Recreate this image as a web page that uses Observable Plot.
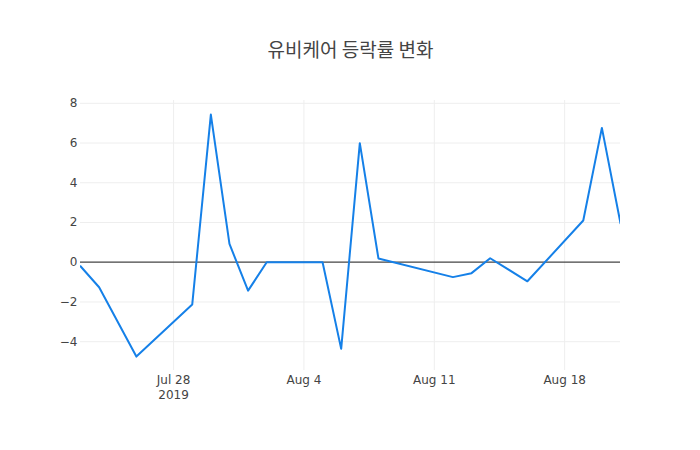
<!DOCTYPE html>
<html>
<head>
<meta charset="utf-8">
<script src="https://cdn.jsdelivr.net/npm/d3@7"></script>
<script src="https://cdn.jsdelivr.net/npm/@observablehq/plot@0.6"></script>
<style>
  html, body { margin: 0; padding: 0; background: #fff; }
  #chart svg { display: block; }
</style>
</head>
<body>
<div id="chart"></div>
<script>
const title = "유비케어 등락률 변화";
const dates = ["2019-07-23","2019-07-24","2019-07-26","2019-07-29","2019-07-30","2019-07-31",
  "2019-08-01","2019-08-02","2019-08-05","2019-08-06","2019-08-07","2019-08-08",
  "2019-08-12","2019-08-13","2019-08-14","2019-08-16","2019-08-19","2019-08-20","2019-08-21"];
const changes = [-0.2, -1.26, -4.75, -2.13, 7.43, 0.92, -1.43, 0, 0, -4.36, 5.99, 0.19,
  -0.75, -0.55, 0.2, -0.96, 2.1, 6.76, 1.96];
const xTickDates = ["2019-07-28","2019-08-04","2019-08-11","2019-08-18"];
const xTickLabels = ["Jul 28\n2019","Aug 4","Aug 11","Aug 18"];
const yTicks = [-4, -2, 0, 2, 4, 6, 8];

const parse = d3.utcParse("%Y-%m-%d");
const data = dates.map((d, i) => ({date: parse(d), value: changes[i]}));
const xTicks = xTickDates.map(parse);
const xLabelData = xTicks.map((d, i) => ({date: d, label: xTickLabels[i]}));

const font = "'DejaVu Sans', 'Noto Sans CJK KR', sans-serif";

const chart = Plot.plot({
  width: 700,
  height: 450,
  marginLeft: 80,
  marginRight: 80,
  marginTop: 100,
  marginBottom: 80,
  style: {fontFamily: font, fontSize: "12px", color: "#444", background: "#fff"},
  x: {type: "utc", domain: [parse("2019-07-23"), parse("2019-08-21")], axis: null},
  y: {domain: [-5.45, 8.14], axis: null},
  marks: [
    Plot.gridX(xTicks, {stroke: "#eee", strokeOpacity: 1}),
    Plot.gridY(yTicks.filter(d => d !== 0), {stroke: "#eee", strokeOpacity: 1}),
    Plot.ruleY([0], {stroke: "#444", strokeWidth: 1.2}),
    Plot.axisY(yTicks, {tickSize: 0, tickPadding: 3, tickFormat: d3.format("d"), fill: "#444", fontSize: 12, label: null}),
    Plot.text(xLabelData, {x: "date", text: "label", frameAnchor: "bottom", lineAnchor: "top", dy: 3, lineHeight: 1.25, fill: "#444", fontSize: 12}),
    Plot.line(data, {x: "date", y: "value", stroke: "#1580e8", strokeWidth: 2, clip: true}),
    Plot.text([title], {frameAnchor: "top", dy: -57, fontSize: 19, fill: "#444", fontFamily: "'Noto Sans CJK KR', sans-serif"})
  ]
});
document.getElementById("chart").appendChild(chart);
</script>
</body>
</html>
